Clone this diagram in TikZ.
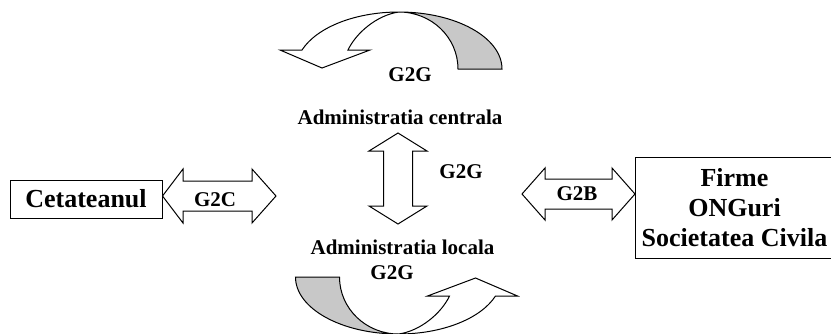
\documentclass[tikz,border=0pt]{standalone}
\usepackage{fontspec}
\setmainfont{Liberation Serif}
\definecolor{bandgray}{RGB}{200,200,200}
\begin{document}
\begin{tikzpicture}[x=1pt,y=-1pt,
  outline/.style={draw=black,line width=1pt,line join=miter},
  smalltxt/.style={font=\fontsize{21}{24}\selectfont\bfseries,inner sep=0pt},
  bigtxt/.style={font=\fontsize{26}{30}\selectfont\bfseries,inner sep=0pt},
  boxnode/.style={draw=black,line width=1pt,inner sep=0pt,align=center},
  pics/curvedarrow/.style={code={
    \path[outline,fill=bandgray] (399,12) .. controls (456,12) and (502,37.5) .. (502,69)
      -- (458,69) .. controls (458,37.5) and (431.6,12) .. (399,12) -- cycle;
    \path[outline,fill=white] (302,50) .. controls (317,27) and (355.7,12) .. (399,12)
      .. controls (377,15) and (356,33) .. (348,50) -- (370,50) -- (322,68) -- (280,50) -- cycle;
  }}]
\useasboundingbox (0,0) rectangle (831,333);
% curved arrows
\pic {curvedarrow};
\begin{scope}[rotate around={180:(398.75,173)}]
  \pic[transform shape] {curvedarrow};
\end{scope}
% boxes
\node[boxnode,bigtxt,minimum width=152pt,minimum height=38pt] (cet) at (86,199) {Cetateanul};
\node[boxnode,bigtxt,minimum width=199pt,minimum height=101pt] (firms) at (734.5,207.5)
  {Firme\\ONGuri\\Societatea Civila};
% texts
\node[smalltxt] (g2gtop) at (410,75) {G2G};
\node[smalltxt] (central) at (400,117) {Administratia centrala};
\node[smalltxt] (g2gmid) at (461,172) {G2G};
\node[smalltxt] (local) at (402.5,247) {Administratia locala};
\node[smalltxt] (g2gbot) at (392,273) {G2G};
% double arrows
\path[outline,fill=white] (162.5,196) -- (183,169) -- (183,181) -- (252,181) -- (252,169)
  -- (276,196) -- (252,223) -- (252,211) -- (183,211) -- (183,223) -- cycle;
\node[smalltxt] (g2c) at (215,200) {G2C};
\path[outline,fill=white] (522,194) -- (545,168) -- (545,179) -- (612,179) -- (612,168)
  -- (635,194) -- (612,220) -- (612,209) -- (545,209) -- (545,220) -- cycle;
\node[smalltxt] (g2b) at (577,194) {G2B};
\path[outline,fill=white] (398,133) -- (427,151) -- (412.5,151) -- (412.5,206) -- (427,206)
  -- (398,224) -- (369,206) -- (383.5,206) -- (383.5,151) -- (369,151) -- cycle;
\end{tikzpicture}
\end{document}
